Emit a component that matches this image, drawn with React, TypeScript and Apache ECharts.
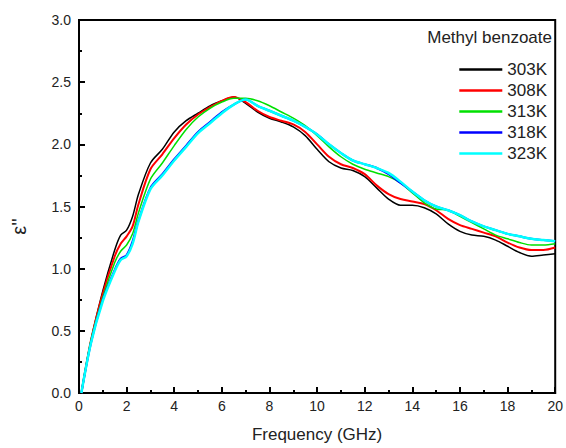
import React, { useEffect, useRef } from "react";
import * as echarts from "echarts";

const frequency = [0.1, 0.5, 1, 1.5, 1.75, 2, 2.25, 2.5, 3, 3.5, 4, 4.5, 5, 5.5, 6, 6.5, 7, 7.5, 8, 8.5, 9, 9.5, 10, 10.5, 11, 11.5, 12, 12.5, 13, 13.5, 14, 14.5, 15, 15.5, 16, 16.5, 17, 17.5, 18, 18.5, 19, 19.5, 20];

const k303 = [0.0, 0.42, 0.82, 1.15, 1.27, 1.31, 1.42, 1.6, 1.85, 1.96, 2.1, 2.19, 2.25, 2.31, 2.35, 2.38, 2.33, 2.26, 2.21, 2.18, 2.14, 2.07, 1.96, 1.86, 1.81, 1.79, 1.74, 1.65, 1.56, 1.51, 1.51, 1.49, 1.44, 1.36, 1.3, 1.27, 1.26, 1.23, 1.18, 1.13, 1.1, 1.11, 1.12];
const k308 = [0.0, 0.42, 0.8, 1.1, 1.2, 1.26, 1.34, 1.52, 1.8, 1.92, 2.05, 2.16, 2.24, 2.3, 2.35, 2.38, 2.34, 2.27, 2.22, 2.19, 2.16, 2.1, 2.0, 1.9, 1.84, 1.81, 1.76, 1.67, 1.6, 1.56, 1.54, 1.52, 1.47, 1.4, 1.35, 1.32, 1.29, 1.26, 1.21, 1.17, 1.15, 1.15, 1.17];
const k313 = [0.0, 0.42, 0.77, 1.05, 1.14, 1.19, 1.28, 1.45, 1.72, 1.85, 1.99, 2.12, 2.22, 2.29, 2.34, 2.37, 2.37, 2.35, 2.31, 2.26, 2.21, 2.15, 2.07, 1.98, 1.9, 1.84, 1.8, 1.77, 1.74, 1.69, 1.61, 1.53, 1.48, 1.47, 1.42, 1.37, 1.32, 1.27, 1.24, 1.21, 1.19, 1.19, 1.2];
const k318 = [0.0, 0.4, 0.75, 0.99, 1.08, 1.11, 1.22, 1.39, 1.65, 1.76, 1.88, 1.99, 2.1, 2.18, 2.26, 2.32, 2.36, 2.31, 2.27, 2.23, 2.19, 2.14, 2.08, 2.0, 1.93, 1.87, 1.84, 1.81, 1.76, 1.69, 1.62, 1.55, 1.5, 1.47, 1.43, 1.38, 1.34, 1.31, 1.28, 1.26, 1.24, 1.23, 1.22];
const k323 = [0.0, 0.4, 0.74, 0.98, 1.07, 1.1, 1.2, 1.38, 1.64, 1.75, 1.87, 1.98, 2.09, 2.17, 2.25, 2.32, 2.36, 2.31, 2.27, 2.23, 2.19, 2.14, 2.08, 2.0, 1.93, 1.87, 1.84, 1.81, 1.77, 1.7, 1.62, 1.55, 1.5, 1.47, 1.43, 1.38, 1.34, 1.31, 1.28, 1.26, 1.24, 1.23, 1.22];

const seriesNames = ["303K", "308K", "313K", "318K", "323K"];
const seriesValues = [k303, k308, k313, k318, k323];
const seriesColors = ["#000000", "#ff0000", "#00e000", "#0000ff", "#00ffff"];
const seriesWidths = [1.5, 2, 1.5, 2, 2.5];

const FONT = "'Liberation Sans', Arial, sans-serif";

export default function App() {
  const ref = useRef<HTMLDivElement>(null);
  useEffect(() => {
    if (!ref.current) return;
    const chart = echarts.init(ref.current, null, { renderer: "svg" });
    chart.setOption({
      animation: false,
      backgroundColor: "#ffffff",
      textStyle: { fontFamily: FONT },
      title: {
        text: "Methyl benzoate",
        right: 14,
        top: 29,
        padding: 0,
        textStyle: { fontFamily: FONT, fontSize: 17, fontWeight: "normal", color: "#222" },
      },
      legend: {
        orient: "vertical",
        right: 19,
        top: 61,
        padding: 0,
        icon: "rect",
        itemWidth: 43,
        itemHeight: 2.5,
        itemGap: 4,
        data: seriesNames,
        textStyle: { fontFamily: FONT, fontSize: 17, color: "#222" },
      },
      grid: {
        left: 79,
        right: 7,
        top: 20,
        bottom: 52,
        show: true,
        borderColor: "#000",
        borderWidth: 2,
        backgroundColor: "transparent",
      },
      xAxis: {
        type: "value",
        min: 0,
        max: 20,
        interval: 2,
        name: "Frequency (GHz)",
        nameLocation: "middle",
        nameGap: 33,
        nameTextStyle: { fontFamily: FONT, fontSize: 17, color: "#222" },
        axisLine: { show: true, lineStyle: { color: "#000", width: 2 } },
        axisTick: { show: true, inside: true, length: 6, lineStyle: { color: "#000", width: 2 } },
        minorTick: { show: true, splitNumber: 2, length: 3, lineStyle: { color: "#000", width: 2 } },
        splitLine: { show: false },
        axisLabel: { fontFamily: FONT, fontSize: 14, color: "#222", margin: 6 },
      },
      yAxis: {
        type: "value",
        min: 0,
        max: 3,
        interval: 0.5,
        name: "ε''",
        nameLocation: "middle",
        nameRotate: 90,
        nameGap: 50,
        nameTextStyle: { fontFamily: FONT, fontSize: 20, color: "#222", padding: [0, 40, 0, 0] },
        axisLine: { show: true, lineStyle: { color: "#000", width: 2 } },
        axisTick: { show: true, inside: true, length: 6, lineStyle: { color: "#000", width: 2 } },
        minorTick: { show: true, splitNumber: 2, length: 3, lineStyle: { color: "#000", width: 2 } },
        splitLine: { show: false },
        axisLabel: {
          fontFamily: FONT,
          fontSize: 14,
          color: "#222",
          margin: 8,
          formatter: (v: number) => v.toFixed(1),
        },
      },
      series: seriesNames.map((name, i) => ({
        name,
        type: "line",
        data: frequency.map((f, j) => [f, seriesValues[i][j]]),
        symbol: "none",
        smooth: 0.3,
        lineStyle: { color: seriesColors[i], width: seriesWidths[i] },
        itemStyle: { color: seriesColors[i] },
        z: 2 + i,
      })),
    });
    return () => chart.dispose();
  }, []);
  return <div ref={ref} style={{ width: 566, height: 448, position: "absolute", left: 0, top: 0 }} />;
}
